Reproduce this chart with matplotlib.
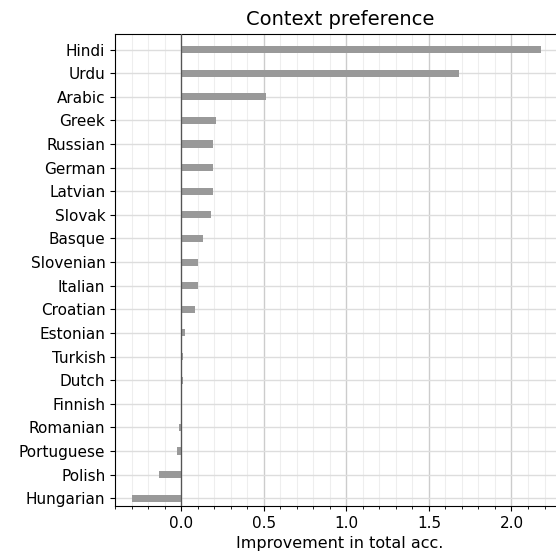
import matplotlib
matplotlib.use("Agg")
import matplotlib.pyplot as plt
from matplotlib.ticker import MultipleLocator

languages = [
    "Hindi", "Urdu", "Arabic", "Greek", "Russian", "German", "Latvian",
    "Slovak", "Basque", "Slovenian", "Italian", "Croatian", "Estonian",
    "Turkish", "Dutch", "Finnish", "Romanian", "Portuguese", "Polish",
    "Hungarian",
]
improvement = [
    2.18, 1.685, 0.513, 0.212, 0.194, 0.194, 0.194,
    0.182, 0.133, 0.103, 0.102, 0.083, 0.022,
    0.010, 0.010, 0.0, -0.016, -0.026, -0.135,
    -0.297,
]

fig = plt.figure(figsize=(5.56, 5.53), dpi=100)
ax = fig.add_axes([0.207, 0.085, 0.808, 0.854])

pos = list(range(len(languages)))
ax.barh(pos, improvement, height=0.3, color="#999999", zorder=3)
ax.axvline(0, color="#555555", linewidth=0.9, zorder=4)

ax.set_yticks(pos)
ax.set_yticklabels(languages, fontsize=11)
ax.set_ylim(len(languages) - 1 + 0.33, -0.67)
ax.set_xlim(-0.40, 2.32)

ax.xaxis.set_major_locator(MultipleLocator(0.5))
ax.xaxis.set_minor_locator(MultipleLocator(0.1))
ax.tick_params(axis="x", labelsize=11)
ax.grid(True, which="major", axis="x", color="#cccccc", linewidth=1.0, zorder=0)
ax.grid(True, which="minor", axis="x", color="#eeeeee", linewidth=0.8, zorder=0)
ax.grid(True, which="major", axis="y", color="#dddddd", linewidth=1.0, zorder=0)

ax.set_xlabel("Improvement in total acc.", fontsize=11.5)
ax.set_title("Context preference", fontsize=14)

fig.savefig("out.png", dpi=100)
